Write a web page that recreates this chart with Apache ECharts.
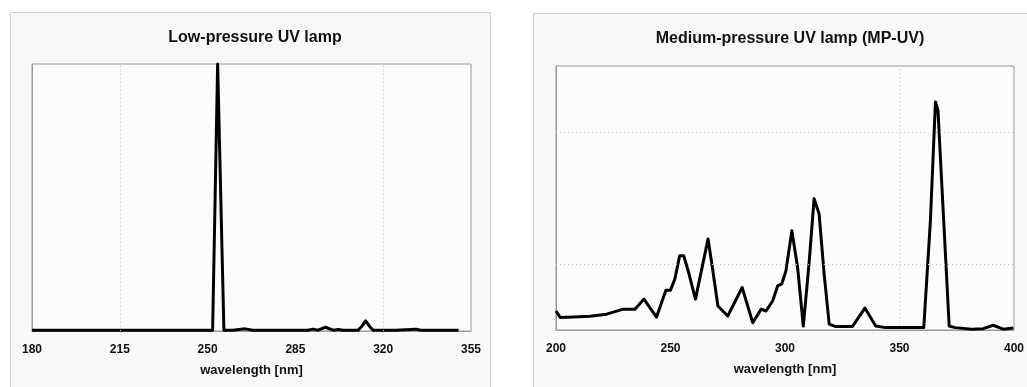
<!DOCTYPE html>
<html>
<head>
<meta charset="utf-8">
<script src="https://cdn.jsdelivr.net/npm/echarts@6/dist/echarts.min.js"></script>
<style>
html,body{margin:0;padding:0;background:#ffffff;}
#c{width:1027px;height:387px;}
</style>
</head>
<body>
<div id="c"></div>
<script>
// ---- data ----
const leftTitle = "Low-pressure UV lamp";
const rightTitle = "Medium-pressure UV lamp (MP-UV)";
const xName = "wavelength [nm]";

const leftWavelength = [180, 200, 220, 240, 250, 252, 254, 256.5, 260, 265, 268, 280, 290, 292, 294, 297, 300, 302, 304, 310, 311.5, 313, 314.5, 316, 325, 333, 335, 340, 350];
const leftIntensity  = [0.3, 0.3, 0.3, 0.3, 0.3, 0.3, 100, 0.3, 0.3, 0.8, 0.3, 0.3, 0.3, 0.7, 0.3, 1.4, 0.3, 0.6, 0.3, 0.3, 1.8, 3.8, 1.8, 0.3, 0.3, 0.7, 0.3, 0.3, 0.3];
const leftTicks = [180, 215, 250, 285, 320, 355];
const leftGridX = [215, 320];

const rightWavelength = [200, 201.9, 207.7, 214.9, 222.1, 229.4, 234.5, 238.4, 243.9, 248, 250, 251.9, 254, 255.8, 258.1, 260.9, 266.4, 268.3, 270.7, 275, 281.3, 285.9, 289.6, 291.7, 294.6, 296.8, 298.6, 300.4, 303, 305.5, 308, 310.6, 312.7, 314.9, 317.1, 319.3, 322.2, 329.4, 334.9, 339.6, 343.9, 360.6, 363.5, 365.7, 366.8, 369.3, 371.7, 374.3, 381.6, 386.6, 390.9, 395.3, 399.7];
const rightIntensity  = [7.2, 4.7, 4.9, 5.2, 6.0, 7.9, 7.9, 11.7, 4.9, 15.1, 15.1, 19.3, 28.1, 28.1, 21.2, 11.7, 34.5, 23.7, 9.1, 5.3, 16.1, 2.8, 7.9, 7.2, 11.0, 16.7, 17.5, 22.4, 37.6, 23.7, 1.5, 26.2, 49.7, 44.0, 21.2, 2.2, 1.3, 1.3, 8.3, 1.5, 0.9, 0.9, 41.4, 86.4, 83.3, 41.4, 1.5, 0.9, 0.3, 0.5, 1.8, 0.3, 0.8];
const rightTicks = [200, 250, 300, 350, 400];
const rightGridX = [350];
const rightGridY = [25, 75];

// ---- chart ----
const leftOffset = leftTicks[0];
const font = '"Liberation Sans", Arial, sans-serif';
const chart = echarts.init(document.getElementById('c'), null, {renderer: 'canvas'});

const gridLineStyle = {color: '#c8c8c8', type: [1, 3], width: 1};
const titleStyle = {fontFamily: font, fontSize: 16, fontWeight: 'bold', color: '#111'};
const labelStyle = {fontFamily: font, fontSize: 12, fontWeight: 'bold', color: '#111'};
const nameStyle = {fontFamily: font, fontSize: 13, fontWeight: 'bold', color: '#111'};

const option = {
  animation: false,
  backgroundColor: '#ffffff',
  graphic: [
    {type: 'rect', shape: {x: 10.5, y: 12.5, width: 480, height: 400}, style: {fill: '#f8f8f8', stroke: '#cfcfcf', lineWidth: 1}, z: -10},
    {type: 'rect', shape: {x: 533.5, y: 13.5, width: 500, height: 400}, style: {fill: '#f8f8f8', stroke: '#cfcfcf', lineWidth: 1}, z: -10}
  ],
  title: [
    {text: leftTitle, left: 250, top: 25, textAlign: 'center', textStyle: titleStyle},
    {text: rightTitle, left: 785, top: 26, textAlign: 'center', textStyle: titleStyle}
  ],
  grid: [
    {left: 32, right: 556, top: 64, bottom: 56, show: true, backgroundColor: '#fcfcfc', borderColor: '#9a9a9a', borderWidth: 1},
    {left: 556, right: 11, top: 66, bottom: 57, show: true, backgroundColor: '#fcfcfc', borderColor: '#9a9a9a', borderWidth: 1}
  ],
  xAxis: [
    {gridIndex: 0, type: 'value', min: 0, max: leftTicks[leftTicks.length - 1] - leftOffset, interval: leftTicks[1] - leftTicks[0],
     name: xName, nameLocation: 'middle', nameGap: 33, nameTextStyle: nameStyle,
     axisLine: {show: true, lineStyle: {color: '#9a9a9a'}}, axisTick: {show: false},
     axisLabel: Object.assign({margin: 13, formatter: v => String(v + leftOffset)}, labelStyle),
     splitLine: {show: false}},
    {gridIndex: 1, type: 'value', min: rightTicks[0], max: rightTicks[rightTicks.length - 1], interval: rightTicks[1] - rightTicks[0],
     name: xName, nameLocation: 'middle', nameGap: 33, nameTextStyle: nameStyle,
     axisLine: {show: true, lineStyle: {color: '#9a9a9a'}}, axisTick: {show: false},
     axisLabel: Object.assign({margin: 13}, labelStyle),
     splitLine: {show: false}}
  ],
  yAxis: [
    {gridIndex: 0, type: 'value', min: 0, max: 100, axisLabel: {show: false}, axisTick: {show: false},
     axisLine: {show: true, lineStyle: {color: '#9a9a9a'}}, splitLine: {show: false}},
    {gridIndex: 1, type: 'value', min: 0, max: 100, axisLabel: {show: false}, axisTick: {show: false},
     axisLine: {show: true, lineStyle: {color: '#9a9a9a'}}, splitLine: {show: false}}
  ],
  series: [
    {type: 'line', xAxisIndex: 0, yAxisIndex: 0, symbol: 'none', clip: true,
     lineStyle: {color: '#000', width: 3, join: 'round'},
     data: leftWavelength.map((w, i) => [w - leftOffset, leftIntensity[i]]),
     markLine: {silent: true, symbol: 'none', label: {show: false}, lineStyle: gridLineStyle,
       data: leftGridX.map(x => ({xAxis: x - leftOffset}))}, z: 3},
    {type: 'line', xAxisIndex: 1, yAxisIndex: 1, symbol: 'none', clip: true,
     lineStyle: {color: '#000', width: 3, join: 'round'},
     data: rightWavelength.map((w, i) => [w, rightIntensity[i]]),
     markLine: {silent: true, symbol: 'none', label: {show: false}, lineStyle: gridLineStyle,
       data: rightGridX.map(x => ({xAxis: x})).concat(rightGridY.map(y => ({yAxis: y})))}, z: 3}
  ]
};
chart.setOption(option);
</script>
</body>
</html>
